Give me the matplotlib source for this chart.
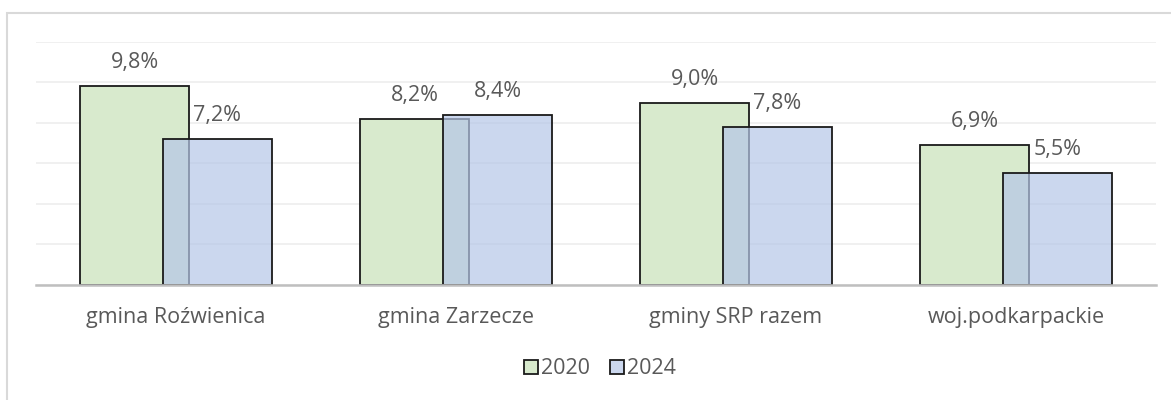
import matplotlib
matplotlib.use("Agg")
import matplotlib.pyplot as plt
from matplotlib.patches import Rectangle, Patch
import numpy as np

categories = ["gmina Roźwienica", "gmina Zarzecze", "gminy SRP razem", "woj.podkarpackie"]
series_names = ["2020", "2024"]
values_2020 = [9.8, 8.2, 9.0, 6.9]
values_2024 = [7.2, 8.4, 7.8, 5.5]

plt.rcParams['font.family'] = ['Open Sans', 'DejaVu Sans']
TXT = '#595959'
GREEN = (216 / 255, 234 / 255, 205 / 255, 1.0)
BLUE = (181 / 255, 198 / 255, 231 / 255, 0.7)
FS = 15.5

fig = plt.figure(figsize=(11.71, 4.0), dpi=100)
W, H = 1171, 400
ax = fig.add_axes([36 / W, (H - 284.5) / H, (1156 - 36) / W, (284.5 - 42) / H])

x = np.arange(len(categories))
bw = 0.39
off = 0.148
b1 = ax.bar(x - off, values_2020, bw, color=GREEN, edgecolor='#1a1a1a', linewidth=1.3, zorder=3)
b2 = ax.bar(x + off, values_2024, bw, color=BLUE, edgecolor='#1a1a1a', linewidth=1.3, zorder=4)

for bars, vals in ((b1, values_2020), (b2, values_2024)):
    for r, v in zip(bars, vals):
        ax.annotate(f"{v:.1f}%".replace('.', ','), (r.get_x() + r.get_width() / 2, r.get_height()),
                    xytext=(0, 18), textcoords='offset pixels', ha='center', va='baseline',
                    fontsize=FS, color=TXT, zorder=5)

ax.set_xlim(-0.5, len(categories) - 0.5)
ax.set_ylim(0, 12)
ax.set_yticks(np.arange(0, 13, 2))
ax.yaxis.grid(True, color='#eeeeee', linewidth=1.2, zorder=0)
ax.tick_params(axis='y', left=False, labelleft=False)
ax.set_xticks(x)
ax.set_xticklabels(categories, fontsize=FS, color=TXT)
ax.tick_params(axis='x', bottom=False, pad=13)
for s in ('left', 'right', 'top'):
    ax.spines[s].set_visible(False)
ax.spines['bottom'].set_color('#bfbfbf')
ax.spines['bottom'].set_linewidth(1.8)
ax.spines['bottom'].set_zorder(6)

handles = [Patch(facecolor=GREEN, edgecolor='#1a1a1a', linewidth=1.3),
           Patch(facecolor=(203 / 255, 215 / 255, 238 / 255, 1.0), edgecolor='#1a1a1a', linewidth=1.3)]
leg = fig.legend(handles, series_names, loc='center', bbox_to_anchor=(600 / W, (H - 369) / H),
                 ncol=2, frameon=False, fontsize=FS, handlelength=0.65, handleheight=0.65,
                 handletextpad=0.15, columnspacing=0.9, labelcolor=TXT)

fig.patches.append(Rectangle((7 / W, -0.1), 1.2, (H - 13) / H + 0.1, transform=fig.transFigure,
                             fill=False, edgecolor='#d9d9d9', linewidth=1.5))

fig.savefig('out.png', dpi=100, facecolor='white')
